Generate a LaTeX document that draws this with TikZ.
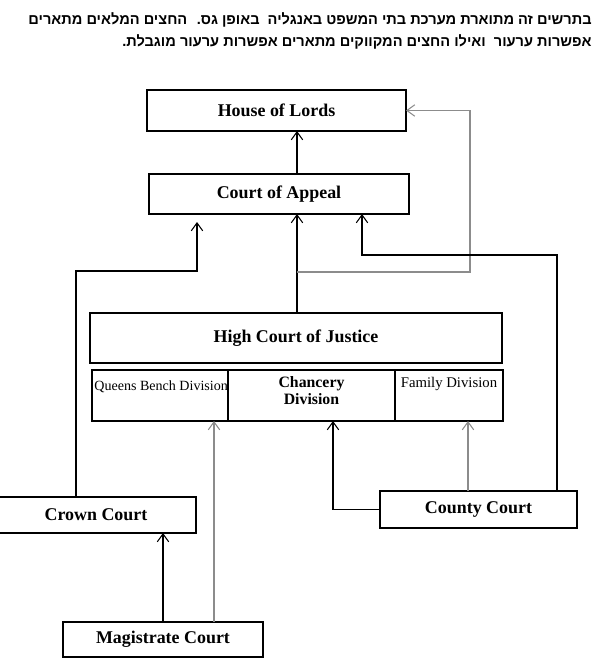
\documentclass[tikz,border=0pt]{standalone}
\usepackage{fontspec}
\setmainfont{Liberation Serif}
\newfontfamily\hebfont[Script=Hebrew]{Liberation Sans}
\usetikzlibrary{arrows.meta}
\TeXXeTstate=1

\begin{document}
\begin{tikzpicture}[x=0.02cm,y=-0.02cm,
        court/.style={draw,line width=0.8pt,inner sep=0pt,outer sep=0pt,font=\fontsize{10.2}{12}\selectfont\bfseries},
        divtext/.style={inner sep=0pt,font=\fontsize{8}{9.5}\selectfont},
        appeal/.style={line width=0.6pt,-{Straight Barb[length=4.5pt,width=6.5pt]}},
        limited/.style={appeal,draw=black!45},
        heb/.style={inner sep=0pt,anchor=east,font=\fontsize{8.3}{10}\selectfont\hebfont\bfseries}]
    \useasboundingbox (0,0) rectangle (600,670);
    % note above the chart
    \node[heb] (note1) at (592,20) {\beginR בתרשים זה מתוארת מערכת בתי המשפט באנגליה \ באופן גס. \ החצים המלאים מתארים\endR};
    \node[heb] (note2) at (592,42) {\beginR אפשרות ערעור \ ואילו החצים המקווקים מתארים אפשרות ערעור מוגבלת.\endR};
    % courts
    \node[court,minimum width=5.18cm,minimum height=0.82cm] (hl) at (276.5,110.5) {House of Lords};
    \node[court,minimum width=5.2cm,minimum height=0.8cm] (coa) at (279,194) {Court of Appeal};
    \node[court,minimum width=8.24cm,minimum height=1cm] (hcj) at (296,338) {High Court of Justice};
    \node[court,minimum width=2.72cm,minimum height=1.02cm] (qbd) at (160,395.5) {};
    \node[court,minimum width=3.34cm,minimum height=1.02cm] (chd) at (311.5,395.5) {};
    \node[court,minimum width=2.16cm,minimum height=1.02cm] (fad) at (449,395.5) {};
    \node[divtext,anchor=north west] (qbtext) at ([shift={(2,10)}]qbd.north west) {Queens Bench Division};
    \node[court,draw=none,align=center,anchor=north,font=\fontsize{9}{10}\selectfont\bfseries] (chtext) at ([yshift=-3.5pt]chd.north) {Chancery\\Division};
    \node[divtext,anchor=north,font=\fontsize{8.4}{10}\selectfont] (fatext) at ([yshift=-4pt]fad.north) {Family Division};
    \node[court,minimum width=4cm,minimum height=0.72cm] (crown) at (96,515) {Crown Court};
    \node[court,minimum width=4cm,minimum height=0.7cm] (mag) at (163,639.5) {Magistrate Court};
    \node[court,minimum width=3.94cm,minimum height=0.74cm] (county) at (478.5,509.5) {County Court};
    % bends of the connectors
    \coordinate (c1) at (297,272);
    \coordinate (c2) at (470,110.5);
    \coordinate (c3) at (197,222);
    \coordinate (c4) at (76,271);
    \coordinate (c5) at (557,255);
    \coordinate (c6) at (362,255);
    \coordinate (c8) at (214,0);
    \coordinate (c9) at (333,0);
    \coordinate (c10) at (468,0);
    % appeals
    \draw[appeal] (coa.north -| c1) -- (hl.south -| c1);
    \draw[appeal] (hcj.north -| c1) -- (coa.south -| c1);
    \draw[limited] (c1) -| (c2) -- (hl.east);
    \draw[appeal] (crown.north -| c4) -- (c4) -| (c3);
    \draw[appeal] (county.north -| c5) -- (c5) -- (c6) -- (coa.south -| c6);
    \draw[appeal] (mag.north) -- (crown.south -| mag.north);
    \draw[limited] (mag.north -| c8) -- (qbd.south -| c8);
    \draw[appeal] (county.west) -| (chd.south -| c9);
    \draw[limited] (county.north -| c10) -- (fad.south -| c10);
\end{tikzpicture}
\end{document}
